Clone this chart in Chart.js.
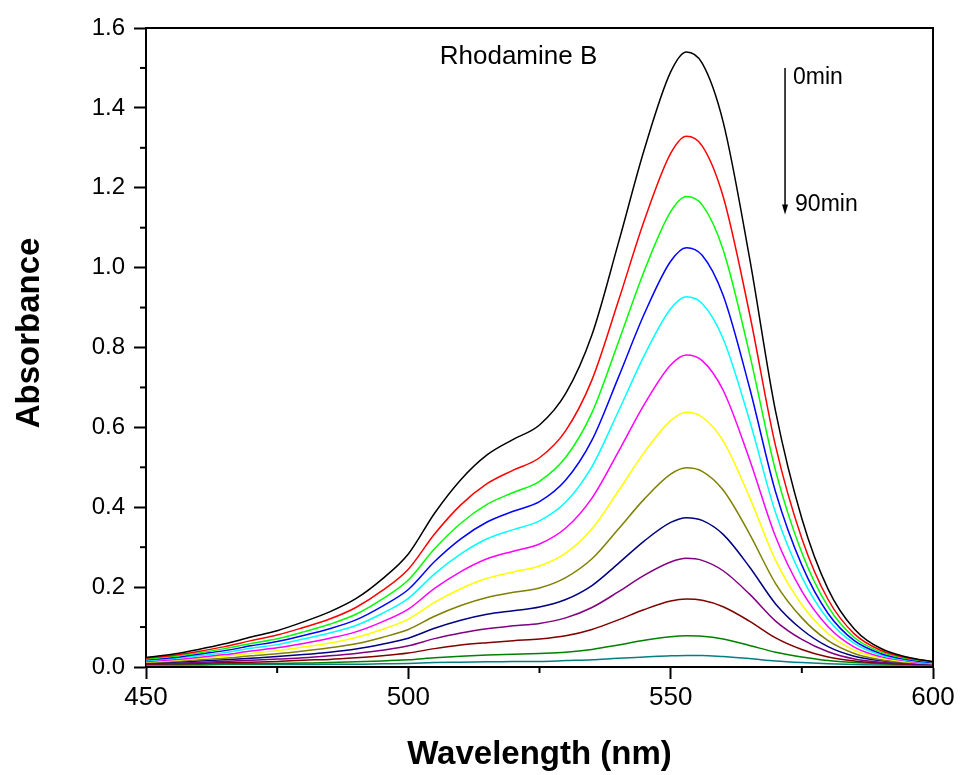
<!DOCTYPE html>
<html>
<head>
<meta charset="utf-8">
<title>Rhodamine B absorbance</title>
<script src="https://cdn.jsdelivr.net/npm/chart.js@4.4.1/dist/chart.umd.min.js"></script>
<style>
  html, body { margin: 0; padding: 0; background: #fff; }
  #wrap { width: 961px; height: 775px; }
</style>
</head>
<body>
<div id="wrap"><canvas id="spectra" width="961" height="775"></canvas></div>
<script>
// wavelength grid (nm)
var wavelengths = [450, 455, 460, 465, 470, 475, 480, 485, 490, 495, 500, 505, 510, 515, 520, 525, 530, 535, 540, 545, 550, 553, 556, 560, 565, 570, 575, 580, 585, 590, 595, 600];

// absorbance, one array per irradiation time
var abs0 = [0.024, 0.032, 0.044, 0.058, 0.075, 0.091, 0.113, 0.138, 0.171, 0.220, 0.283, 0.385, 0.469, 0.531, 0.570, 0.606, 0.685, 0.832, 1.060, 1.297, 1.490, 1.540, 1.512, 1.365, 1.027, 0.640, 0.372, 0.195, 0.095, 0.047, 0.025, 0.013];
var abs1 = [0.022, 0.029, 0.039, 0.051, 0.066, 0.080, 0.099, 0.120, 0.149, 0.191, 0.245, 0.333, 0.406, 0.459, 0.493, 0.524, 0.592, 0.719, 0.915, 1.119, 1.286, 1.329, 1.305, 1.178, 0.887, 0.553, 0.322, 0.169, 0.083, 0.042, 0.023, 0.013];
var abs2 = [0.020, 0.026, 0.035, 0.046, 0.059, 0.071, 0.088, 0.107, 0.132, 0.170, 0.218, 0.296, 0.360, 0.407, 0.437, 0.465, 0.525, 0.637, 0.812, 0.993, 1.140, 1.178, 1.157, 1.045, 0.786, 0.491, 0.286, 0.151, 0.074, 0.038, 0.021, 0.012];
var abs3 = [0.018, 0.023, 0.032, 0.041, 0.053, 0.064, 0.079, 0.096, 0.118, 0.152, 0.194, 0.264, 0.321, 0.363, 0.390, 0.414, 0.468, 0.568, 0.724, 0.885, 1.016, 1.050, 1.031, 0.931, 0.701, 0.438, 0.255, 0.134, 0.066, 0.034, 0.019, 0.011];
var abs4 = [0.016, 0.021, 0.028, 0.036, 0.047, 0.056, 0.070, 0.085, 0.104, 0.134, 0.172, 0.233, 0.283, 0.321, 0.344, 0.366, 0.413, 0.502, 0.639, 0.781, 0.897, 0.927, 0.910, 0.822, 0.619, 0.386, 0.225, 0.119, 0.059, 0.030, 0.017, 0.009];
var abs5 = [0.014, 0.018, 0.024, 0.031, 0.040, 0.048, 0.059, 0.072, 0.088, 0.113, 0.145, 0.197, 0.239, 0.271, 0.290, 0.308, 0.348, 0.423, 0.538, 0.658, 0.756, 0.781, 0.767, 0.693, 0.521, 0.326, 0.190, 0.101, 0.050, 0.026, 0.015, 0.008];
var abs6 = [0.013, 0.016, 0.021, 0.027, 0.034, 0.041, 0.050, 0.060, 0.074, 0.094, 0.120, 0.162, 0.196, 0.222, 0.238, 0.253, 0.285, 0.346, 0.440, 0.538, 0.617, 0.638, 0.626, 0.566, 0.426, 0.267, 0.156, 0.084, 0.042, 0.023, 0.013, 0.009];
var abs7 = [0.011, 0.014, 0.018, 0.022, 0.028, 0.033, 0.040, 0.048, 0.058, 0.074, 0.094, 0.127, 0.154, 0.174, 0.187, 0.198, 0.224, 0.271, 0.345, 0.421, 0.483, 0.499, 0.490, 0.443, 0.334, 0.209, 0.123, 0.066, 0.034, 0.018, 0.011, 0.008];
var abs8 = [0.010, 0.012, 0.015, 0.018, 0.022, 0.026, 0.031, 0.037, 0.045, 0.057, 0.072, 0.097, 0.117, 0.132, 0.141, 0.150, 0.169, 0.204, 0.259, 0.316, 0.362, 0.374, 0.367, 0.332, 0.251, 0.158, 0.094, 0.051, 0.027, 0.016, 0.010, 0.007];
var abs9 = [0.008, 0.009, 0.011, 0.014, 0.017, 0.020, 0.023, 0.028, 0.034, 0.042, 0.053, 0.071, 0.085, 0.096, 0.103, 0.109, 0.123, 0.149, 0.188, 0.230, 0.263, 0.272, 0.267, 0.241, 0.183, 0.115, 0.069, 0.038, 0.020, 0.012, 0.008, 0.006];
var abs10 = [0.007, 0.008, 0.009, 0.011, 0.012, 0.014, 0.017, 0.019, 0.023, 0.028, 0.035, 0.046, 0.055, 0.061, 0.066, 0.070, 0.078, 0.094, 0.118, 0.144, 0.165, 0.170, 0.167, 0.151, 0.115, 0.073, 0.044, 0.025, 0.015, 0.010, 0.007, 0.006];
var abs11 = [0.006, 0.006, 0.007, 0.008, 0.008, 0.009, 0.010, 0.011, 0.013, 0.015, 0.018, 0.023, 0.027, 0.030, 0.032, 0.034, 0.037, 0.044, 0.055, 0.067, 0.076, 0.078, 0.077, 0.070, 0.054, 0.037, 0.025, 0.016, 0.011, 0.008, 0.006, 0.006];
var abs12 = [0.005, 0.005, 0.005, 0.006, 0.006, 0.006, 0.006, 0.007, 0.007, 0.008, 0.009, 0.011, 0.012, 0.013, 0.014, 0.014, 0.016, 0.018, 0.022, 0.025, 0.028, 0.029, 0.029, 0.026, 0.021, 0.015, 0.011, 0.008, 0.006, 0.005, 0.005, 0.005];

var seriesList = [abs0, abs1, abs2, abs3, abs4, abs5, abs6, abs7, abs8, abs9, abs10, abs11, abs12];
var seriesColors = ['#000000', '#ff0000', '#00ff00', '#0000ff', '#00ffff', '#ff00ff', '#ffff00', '#808000', '#000080', '#800080', '#800000', '#008000', '#008080'];

var yTicks = [0.0, 0.2, 0.4, 0.6, 0.8, 1.0, 1.2, 1.4, 1.6];
var xTicks = [450, 500, 550, 600];
var yMinorTicks = [0.1, 0.3, 0.5, 0.7, 0.9, 1.1, 1.3, 1.5];
var xMinorTicks = [475, 525, 575];

var fontFamily = "'Liberation Sans', Arial, sans-serif";

var datasets = seriesList.map(function(values, k) {
    return {
        data: wavelengths.map(function(w, i) { return {x: w, y: values[i]}; }),
        borderColor: seriesColors[k],
        borderWidth: 1.5,
        pointRadius: 0,
        fill: false,
        cubicInterpolationMode: 'monotone'
    };
});

// frame, minor ticks, y title and the text/arrow annotations
var framePlugin = {
    id: 'frame',
    afterDraw: function(chart) {
        var ctx = chart.ctx;
        var area = chart.chartArea;
        var xs = chart.scales.x, ys = chart.scales.y;
        ctx.save();
        ctx.strokeStyle = '#000';
        ctx.lineWidth = 2;
        ctx.beginPath();
        ctx.moveTo(area.left, area.top);
        ctx.lineTo(area.right, area.top);
        ctx.lineTo(area.right, area.bottom);
        ctx.stroke();

        yMinorTicks.forEach(function(v) {
            var py = ys.getPixelForValue(v);
            ctx.beginPath();
            ctx.moveTo(area.left - 6, py);
            ctx.lineTo(area.left, py);
            ctx.stroke();
        });
        xMinorTicks.forEach(function(v) {
            var px = xs.getPixelForValue(v);
            ctx.beginPath();
            ctx.moveTo(px, area.bottom);
            ctx.lineTo(px, area.bottom + 6);
            ctx.stroke();
        });

        ctx.fillStyle = '#000';

        // y axis title (sits a bit above the axis centre in the original)
        ctx.save();
        ctx.translate(30, 333);
        ctx.rotate(-Math.PI / 2);
        ctx.font = 'bold 33px ' + fontFamily;
        ctx.textAlign = 'center';
        ctx.textBaseline = 'middle';
        ctx.fillText('Absorbance', 0, 0);
        ctx.restore();

        // title inside the plot
        ctx.font = '26px ' + fontFamily;
        ctx.textAlign = 'center';
        ctx.textBaseline = 'middle';
        ctx.fillText('Rhodamine B', xs.getPixelForValue(521), ys.getPixelForValue(1.527));

        // time arrow
        var ax = xs.getPixelForValue(571.8);
        var yTop = ys.getPixelForValue(1.5);
        var yTip = ys.getPixelForValue(1.133);
        ctx.lineWidth = 1.5;
        ctx.beginPath();
        ctx.moveTo(ax, yTop);
        ctx.lineTo(ax, yTip - 8);
        ctx.stroke();
        ctx.beginPath();
        ctx.moveTo(ax - 3, yTip - 10);
        ctx.lineTo(ax + 3, yTip - 10);
        ctx.lineTo(ax, yTip);
        ctx.closePath();
        ctx.fill();

        ctx.font = '23px ' + fontFamily;
        ctx.textAlign = 'left';
        ctx.fillText('0min', ax + 8, ys.getPixelForValue(1.475));
        ctx.fillText('90min', ax + 10, ys.getPixelForValue(1.157));
        ctx.restore();
    }
};

var ctx = document.getElementById('spectra').getContext('2d');
var chart = new Chart(ctx, {
    type: 'line',
    data: { datasets: datasets },
    plugins: [framePlugin],
    options: {
        responsive: false,
        animation: false,
        devicePixelRatio: 1,
        layout: { padding: { left: 0, right: 28, top: 28, bottom: 0 } },
        plugins: { legend: { display: false }, tooltip: { enabled: false } },
        scales: {
            x: {
                type: 'linear',
                min: 450,
                max: 600,
                afterFit: function(scale) { scale.height = 108; },
                afterBuildTicks: function(scale) { scale.ticks = xTicks.map(function(v) { return {value: v}; }); },
                ticks: { font: { family: fontFamily, size: 26 }, color: '#000', padding: 3, maxRotation: 0 },
                grid: { drawOnChartArea: false, tickLength: 12, tickColor: '#000', tickWidth: 2 },
                border: { color: '#000', width: 2 },
                title: { display: true, text: 'Wavelength (nm)', color: '#000', font: { family: fontFamily, size: 33, weight: 'bold' }, padding: { top: 12, bottom: 0 } }
            },
            y: {
                min: 0,
                max: 1.6,
                afterFit: function(scale) { scale.width = 146; },
                afterBuildTicks: function(scale) { scale.ticks = yTicks.map(function(v) { return {value: v}; }); },
                ticks: { font: { family: fontFamily, size: 24 }, color: '#000', padding: 9, callback: function(v) { return v.toFixed(1); } },
                grid: { drawOnChartArea: false, tickLength: 12, tickColor: '#000', tickWidth: 2 },
                border: { color: '#000', width: 2 }
            }
        }
    }
});
</script>
</body>
</html>
